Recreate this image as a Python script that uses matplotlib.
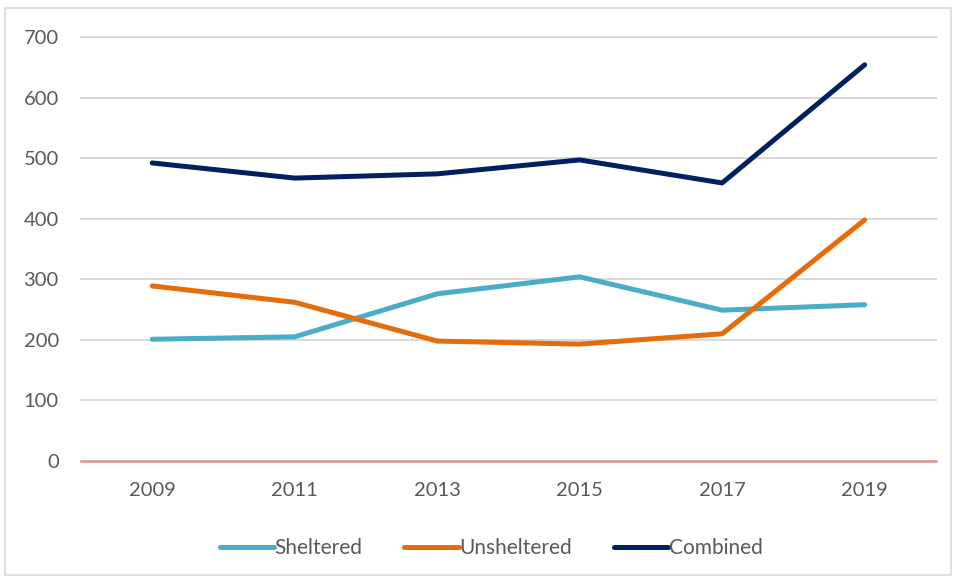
import matplotlib.pyplot as plt
from matplotlib.patches import Rectangle

plt.rcParams['font.family'] = ['Lato', 'DejaVu Sans']

# data
years = ['2009', '2011', '2013', '2015', '2017', '2019']
sheltered = [201, 205, 276, 304, 249, 258]
unsheltered = [289, 262, 198, 193, 210, 398]
combined = [492, 467, 474, 497, 459, 654]

fig = plt.figure(figsize=(9.55, 5.77), dpi=100)
ax = fig.add_axes([0.0848, 0.201, 0.8952, 0.735])

# outer chart border
fig.patches.append(Rectangle((5 / 955, 2 / 577), 946 / 955, 567 / 577,
                             transform=fig.transFigure, fill=False,
                             edgecolor='#D9D9D9', linewidth=1.2))

x = range(len(years))
ax.plot(x, sheltered, color='#4BACC6', linewidth=3.6, solid_capstyle='round', label='Sheltered', clip_on=False)
ax.plot(x, unsheltered, color='#E46C0A', linewidth=3.6, solid_capstyle='round', label='Unsheltered', clip_on=False)
ax.plot(x, combined, color='#002060', linewidth=3.6, solid_capstyle='round', label='Combined', clip_on=False)

ax.set_xlim(-0.5, 5.5)
ax.set_ylim(0, 700)
ax.set_yticks(range(0, 701, 100))
ax.set_xticks(list(x))
ax.set_xticklabels(years)

# gridlines, zero line in pink
for v in range(100, 701, 100):
    ax.axhline(v, color='#D9D9D9', linewidth=1.4, zorder=0, clip_on=False)
ax.axhline(0, color='#E0908E', linewidth=1.8, zorder=1, clip_on=False)

for s in ax.spines.values():
    s.set_visible(False)
ax.tick_params(length=0, labelsize=14.5, labelcolor='#595959')
ax.tick_params(axis='y', pad=16)
ax.tick_params(axis='x', pad=15)

leg = ax.legend(loc='center', bbox_to_anchor=(0.48, -0.205), ncol=3, frameon=False,
                fontsize=15, handlelength=2.6, handletextpad=0.05, columnspacing=2.0)
for t in leg.get_texts():
    t.set_color('#595959')

fig.savefig('out.png', dpi=100)
